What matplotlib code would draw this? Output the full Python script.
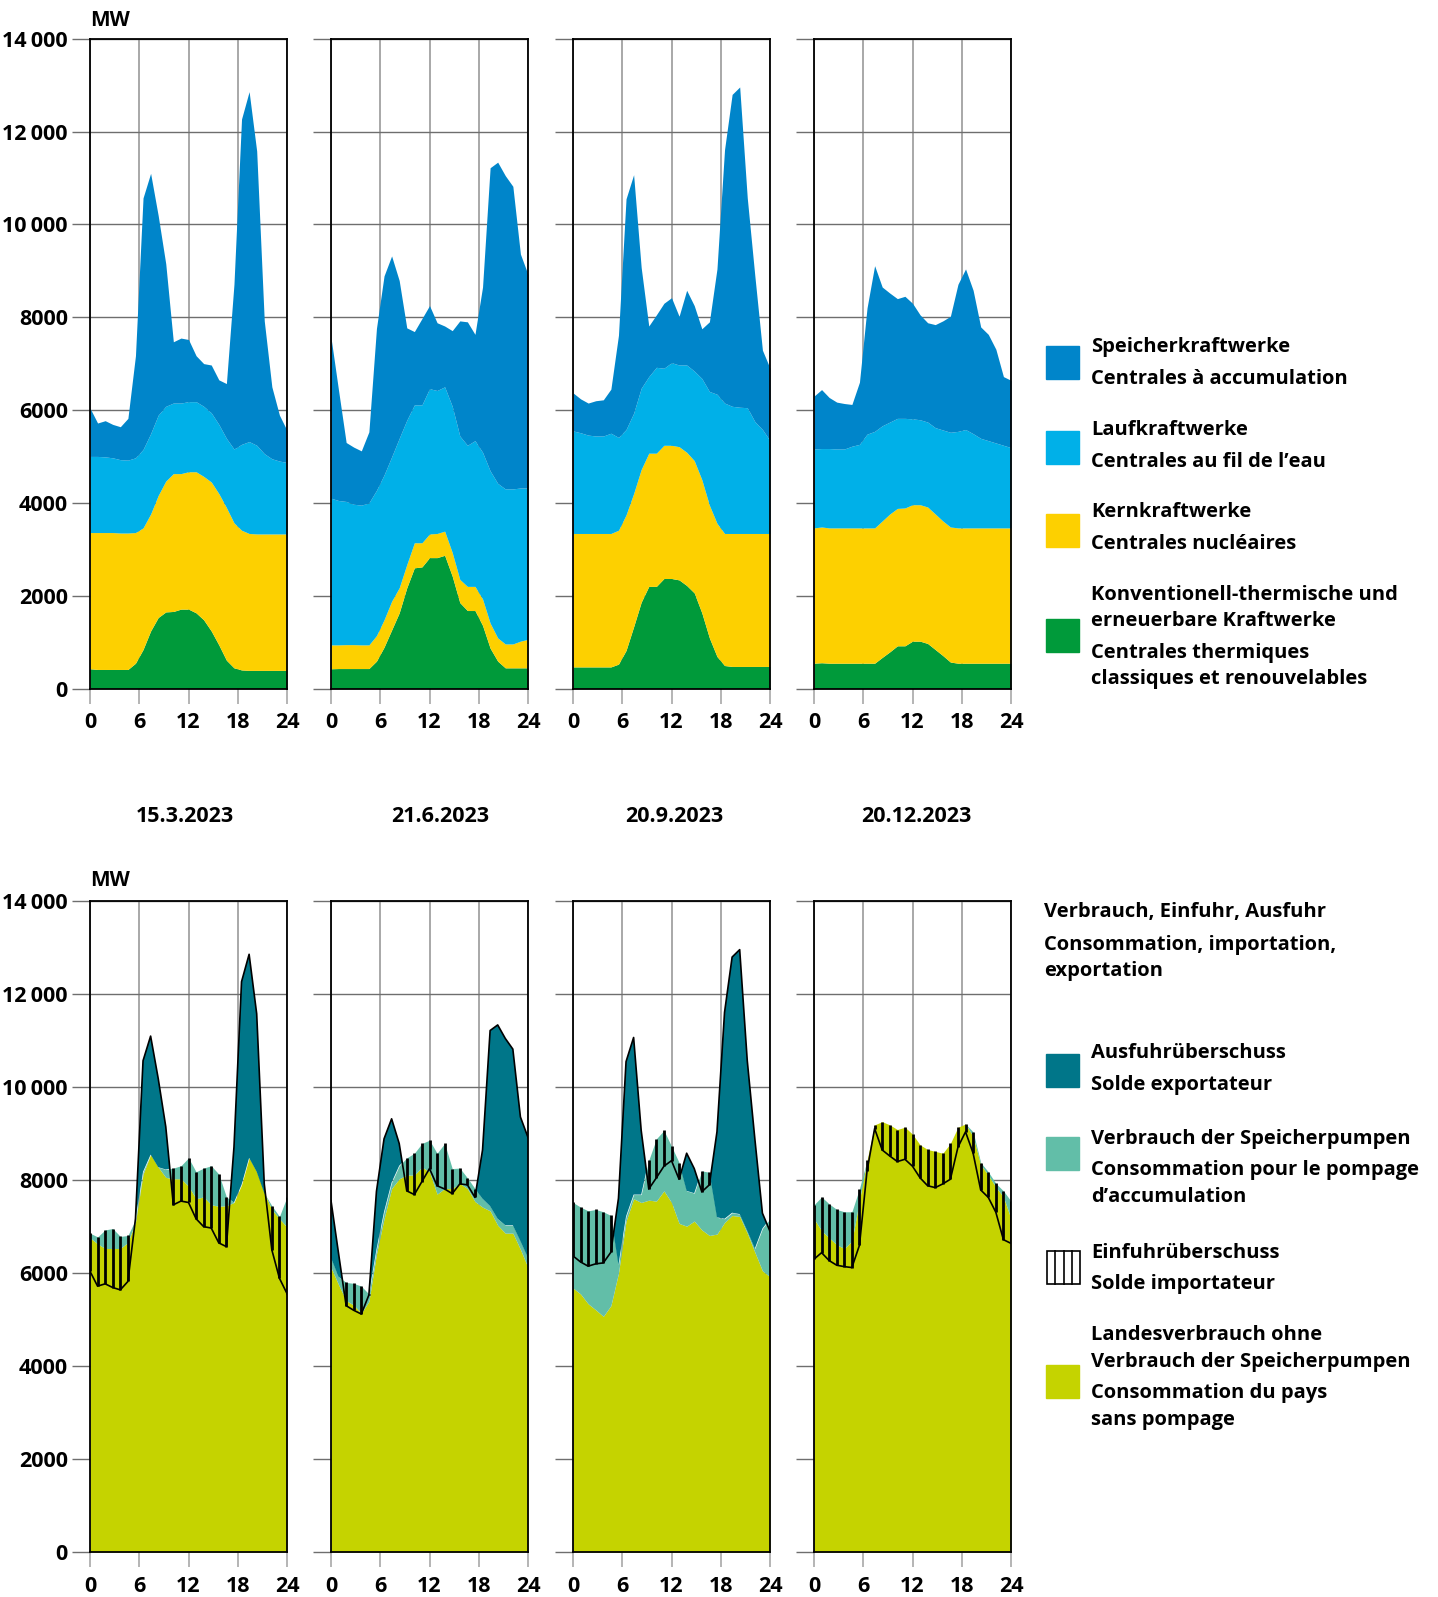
import numpy as np
import matplotlib
matplotlib.use('Agg')
import matplotlib.pyplot as plt
from matplotlib.patches import Rectangle

plt.rcParams['font.family'] = ['Open Sans', 'DejaVu Sans']
plt.rcParams['font.weight'] = 'bold'

W, H = 1438, 1597

# Stundenwerte (27 Stuetzstellen zwischen 0 und 24 Uhr)
stunden = np.linspace(0, 24, 27)

tage = ['15.3.2023', '21.6.2023', '20.9.2023', '20.12.2023']

# --- Produktion, kumulierte Kurven in MW ---
# 15.3.2023
thermisch_1 = [425, 410, 410, 410, 410, 410, 545, 840, 1240, 1530, 1650, 1660, 1710, 1710,
               1630, 1480, 1240, 940, 610, 445, 400, 390, 390, 390, 390, 390, 390]
kern_1 = [3360, 3360, 3360, 3360, 3350, 3350, 3360, 3460, 3760, 4160, 4470, 4630, 4630, 4670,
          4670, 4570, 4450, 4200, 3900, 3570, 3410, 3340, 3330, 3330, 3330, 3330, 3330]
lauf_1 = [5000, 5000, 4990, 4970, 4930, 4920, 4970, 5150, 5490, 5890, 6080, 6150, 6150, 6180,
          6180, 6080, 5940, 5690, 5390, 5160, 5260, 5320, 5240, 5060, 4950, 4900, 4870]
total_1 = [6040, 5720, 5770, 5690, 5640, 5820, 7170, 10570, 11100, 10190, 9150, 7470, 7550, 7520,
           7170, 7000, 6970, 6650, 6570, 8710, 12270, 12860, 11580, 7920, 6500, 5890, 5560]

# 21.6.2023
thermisch_2 = [425, 430, 430, 430, 430, 430, 590, 890, 1260, 1630, 2170, 2600, 2620, 2820,
               2820, 2870, 2420, 1850, 1680, 1680, 1360, 870, 590, 445, 445, 445, 445]
kern_2 = [940, 940, 945, 945, 940, 940, 1140, 1480, 1880, 2170, 2670, 3140, 3140, 3330,
          3340, 3390, 2930, 2350, 2200, 2200, 1930, 1410, 1090, 960, 960, 1020, 1060]
lauf_2 = [4100, 4050, 4030, 3970, 3950, 4000, 4270, 4600, 4990, 5390, 5780, 6110, 6110, 6460,
          6420, 6500, 6080, 5440, 5240, 5340, 5090, 4690, 4420, 4300, 4300, 4320, 4320]
total_2 = [7560, 6420, 5300, 5200, 5120, 5530, 7760, 8890, 9320, 8790, 7770, 7690, 7970, 8250,
           7880, 7810, 7710, 7920, 7900, 7630, 8650, 11220, 11340, 11050, 10820, 9360, 8920]

# 20.9.2023
thermisch_3 = [465, 465, 465, 465, 465, 465, 525, 820, 1330, 1860, 2200, 2200, 2370, 2370,
               2340, 2220, 2060, 1630, 1090, 690, 495, 475, 475, 475, 475, 475, 475]
kern_3 = [3340, 3340, 3340, 3340, 3340, 3340, 3410, 3740, 4200, 4720, 5070, 5070, 5240, 5240,
          5210, 5090, 4910, 4500, 3950, 3560, 3340, 3340, 3340, 3340, 3340, 3340, 3340]
lauf_3 = [5550, 5510, 5460, 5440, 5440, 5500, 5410, 5580, 5930, 6470, 6720, 6920, 6900, 7020,
          6970, 6970, 6840, 6680, 6400, 6340, 6150, 6080, 6060, 6050, 5750, 5580, 5340]
total_3 = [6370, 6240, 6150, 6200, 6220, 6450, 7610, 10550, 11070, 9070, 7810, 8050, 8300, 8420,
           8020, 8580, 8250, 7750, 7900, 9040, 11610, 12800, 12960, 10570, 8890, 7290, 6900]

# 20.12.2023
thermisch_4 = [545, 555, 545, 545, 545, 545, 545, 545, 545, 670, 790, 920, 920, 1020,
               1020, 970, 840, 710, 570, 545, 545, 545, 545, 545, 545, 545, 545]
kern_4 = [3460, 3480, 3460, 3460, 3460, 3460, 3460, 3460, 3460, 3610, 3760, 3880, 3890, 3960,
          3960, 3910, 3760, 3610, 3480, 3460, 3460, 3460, 3460, 3460, 3460, 3460, 3460]
lauf_4 = [5160, 5170, 5170, 5160, 5160, 5220, 5260, 5480, 5540, 5660, 5740, 5820, 5820, 5810,
          5790, 5740, 5620, 5570, 5520, 5540, 5580, 5490, 5390, 5340, 5290, 5240, 5190]
total_4 = [6300, 6440, 6270, 6170, 6140, 6120, 6600, 8200, 9110, 8650, 8520, 8400, 8450, 8300,
           8050, 7880, 7840, 7920, 8020, 8710, 9040, 8580, 7790, 7630, 7310, 6720, 6640]

# --- Verbrauch in MW ---
# Landesverbrauch ohne Speicherpumpen / Verbrauch inkl. Speicherpumpen
land_1 = [6760, 6630, 6530, 6530, 6530, 6660, 7100, 8130, 8550, 8280, 8060, 8030, 8030, 7870,
          7600, 7640, 7470, 7440, 7450, 7520, 7900, 8480, 8180, 7720, 7370, 7170, 6990]
verbrauch_1 = [6860, 6780, 6930, 6960, 6790, 6810, 7150, 8180, 8550, 8280, 8230, 8260, 8310, 8480,
               8180, 8260, 8310, 8130, 7640, 7520, 7900, 8480, 8180, 7720, 7450, 7220, 7640]

land_2 = [6120, 5750, 5410, 5310, 5140, 5390, 6410, 7170, 7820, 8030, 8110, 8110, 8280, 8180,
          7700, 7820, 7820, 7930, 7820, 7540, 7420, 7340, 7030, 6860, 6860, 6510, 6120]
verbrauch_2 = [6330, 5920, 5800, 5780, 5720, 5550, 6510, 7320, 7950, 8310, 8480, 8580, 8790, 8860,
               8580, 8790, 8250, 8260, 8050, 7820, 7600, 7440, 7170, 7030, 7030, 6690, 6330]

land_3 = [5680, 5550, 5340, 5210, 5070, 5300, 6000, 7120, 7600, 7520, 7570, 7550, 7770, 7520,
          7070, 7010, 7120, 6930, 6810, 6840, 7090, 7240, 7220, 6860, 6450, 6050, 5920]
verbrauch_3 = [7520, 7420, 7340, 7370, 7320, 7240, 6180, 7220, 7690, 7690, 8430, 8890, 9070, 8730,
               8380, 7770, 7720, 8200, 8170, 7200, 7170, 7300, 7270, 6910, 6530, 6960, 7170]

land_4 = [7170, 6910, 6760, 6610, 6530, 6690, 7570, 8430, 9190, 9260, 9190, 9090, 9140, 8990,
          8760, 8660, 8620, 8580, 8790, 9140, 9210, 8940, 8330, 8110, 7850, 7640, 7170]
verbrauch_4 = [7470, 7640, 7490, 7370, 7320, 7320, 7820, 8430, 9190, 9260, 9190, 9090, 9140, 8990,
               8760, 8660, 8620, 8580, 8790, 9140, 9210, 9040, 8380, 8180, 7930, 7770, 7550]

produktion = [(thermisch_1, kern_1, lauf_1, total_1),
              (thermisch_2, kern_2, lauf_2, total_2),
              (thermisch_3, kern_3, lauf_3, total_3),
              (thermisch_4, kern_4, lauf_4, total_4)]
verbrauch = [(land_1, verbrauch_1), (land_2, verbrauch_2),
             (land_3, verbrauch_3), (land_4, verbrauch_4)]

yticks = [0, 2000, 4000, 6000, 8000, 10000, 12000, 14000]
yticklabels = ['0', '2000', '4000', '6000', '8000', '10\u2009000', '12\u2009000', '14\u2009000']
xticks = [0, 6, 12, 18, 24]

c_gruen = '#009A3A'
c_gelb = '#FDD000'
c_hellblau = '#00B0E8'
c_blau = '#0085CA'
c_export = '#007689'
c_pump = '#62BEA8'
c_land = '#C5D300'

panel_x = [90, 331, 573, 814]
panel_w = 197
top_y0, top_y1 = 38.7, 688.5
bot_y0, bot_y1 = 901.3, 1552


def fx(x):
    return x / W


def fy(y):
    return 1 - y / H


def style_axes(ax, first):
    ax.set_xlim(0, 24)
    ax.set_ylim(0, 14000)
    ax.set_xticks(xticks)
    ax.set_yticks(yticks)
    ax.set_axisbelow(True)
    ax.xaxis.grid(True, color='#a8a8a8', lw=1.4)
    ax.yaxis.grid(True, color='#6e6e6e', lw=1.0)
    ax.tick_params(axis='y', direction='out', length=13, width=1.0, color='#6e6e6e', pad=3,
                   labelsize=15.5)
    ax.tick_params(axis='x', direction='out', length=11, width=1.2, color='#a8a8a8', pad=6,
                   labelsize=15.5)
    if first:
        ax.set_yticklabels(yticklabels, fontweight='bold')
    else:
        ax.set_yticklabels([])
    ax.set_xticklabels([str(t) for t in xticks], fontweight='bold')
    for s in ax.spines.values():
        s.set_color('black')
        s.set_linewidth(1.3)
        s.set_zorder(5)


fig = plt.figure(figsize=(W / 100, H / 100), dpi=100)

# obere Reihe: Produktion
for i, (therm, kern, lauf, total) in enumerate(produktion):
    ax = fig.add_axes([fx(panel_x[i]), fy(top_y1), fx(panel_w), (top_y1 - top_y0) / H])
    ax.fill_between(stunden, 0, therm, color=c_gruen, lw=0)
    ax.fill_between(stunden, therm, kern, color=c_gelb, lw=0)
    ax.fill_between(stunden, kern, lauf, color=c_hellblau, lw=0)
    ax.fill_between(stunden, lauf, total, color=c_blau, lw=0)
    style_axes(ax, i == 0)

# untere Reihe: Verbrauch, Einfuhr, Ausfuhr
for i, (land, verb) in enumerate(verbrauch):
    prod = np.array(produktion[i][3])
    land = np.array(land)
    verb = np.array(verb)
    ax = fig.add_axes([fx(panel_x[i]), fy(bot_y1), fx(panel_w), (bot_y1 - bot_y0) / H])
    ax.fill_between(stunden, 0, land, color=c_land, lw=0)
    ax.fill_between(stunden, land, verb, color=c_pump, lw=0)
    ax.fill_between(stunden, verb, prod, where=prod > verb, interpolate=True,
                    color=c_export, lw=0)
    imp = prod < verb
    ax.vlines(stunden[imp], prod[imp], verb[imp], color='black', lw=2.0, zorder=3)
    ax.plot(stunden, prod, color='black', lw=1.2, zorder=4)
    style_axes(ax, i == 0)

# Beschriftungen
fig.text(fx(90), fy(21), 'MW', fontsize=15, fontweight='bold', va='center', ha='left')
fig.text(fx(90), fy(881), 'MW', fontsize=15, fontweight='bold', va='center', ha='left')

datum_x = [185, 440, 674, 916]
for x, t in zip(datum_x, tage):
    fig.text(fx(x), fy(816), t, fontsize=15.5, fontweight='bold', ha='center', va='center')

# Legende oben
legende_oben = [
    (c_blau, 346, [('Speicherkraftwerke', 347), ('Centrales à accumulation', 379)]),
    (c_hellblau, 431, [('Laufkraftwerke', 430), ('Centrales au fil de l\u2019eau', 462)]),
    (c_gelb, 514, [('Kernkraftwerke', 512), ('Centrales nucléaires', 544)]),
    (c_gruen, 619, [('Konventionell-thermische und', 595), ('erneuerbare Kraftwerke', 621),
                    ('Centrales thermiques', 653), ('classiques et renouvelables', 679)]),
]
for farbe, y_sq, zeilen in legende_oben:
    fig.patches.append(Rectangle((fx(1046), fy(y_sq + 33)), fx(33), 33 / H, color=farbe,
                                 transform=fig.transFigure, figure=fig))
    for txt, y in zeilen:
        fig.text(fx(1091), fy(y), txt, fontsize=14.5, fontweight='bold', va='center')

# Legende unten
for txt, y in [('Verbrauch, Einfuhr, Ausfuhr', 912), ('Consommation, importation,', 945),
               ('exportation', 971)]:
    fig.text(fx(1044), fy(y), txt, fontsize=14.5, fontweight='bold', va='center')

legende_unten = [
    (c_export, 1054, [('Ausfuhrüberschuss', 1053), ('Solde exportateur', 1085)]),
    (c_pump, 1137, [('Verbrauch der Speicherpumpen', 1139),
                    ('Consommation pour le pompage', 1170), ('d\u2019accumulation', 1197)]),
    (None, 1251, [('Einfuhrüberschuss', 1253), ('Solde importateur', 1284)]),
    (c_land, 1365, [('Landesverbrauch ohne', 1335), ('Verbrauch der Speicherpumpen', 1362),
                    ('Consommation du pays', 1393), ('sans pompage', 1420)]),
]
for farbe, y_sq, zeilen in legende_unten:
    if farbe is None:
        fig.patches.append(Rectangle((fx(1047), fy(y_sq + 33)), fx(33), 33 / H,
                                     facecolor='white', edgecolor='black', lw=1.2,
                                     transform=fig.transFigure, figure=fig))
        for k in (1, 2, 3):
            xl = fx(1047 + k * 33 / 4)
            fig.add_artist(plt.Line2D([xl, xl], [fy(y_sq + 33), fy(y_sq)], color='black',
                                      lw=1.2, transform=fig.transFigure))
    else:
        fig.patches.append(Rectangle((fx(1046), fy(y_sq + 33)), fx(33), 33 / H, color=farbe,
                                     transform=fig.transFigure, figure=fig))
    for txt, y in zeilen:
        fig.text(fx(1091), fy(y), txt, fontsize=14.5, fontweight='bold', va='center')

fig.savefig('out.png', dpi=100)
